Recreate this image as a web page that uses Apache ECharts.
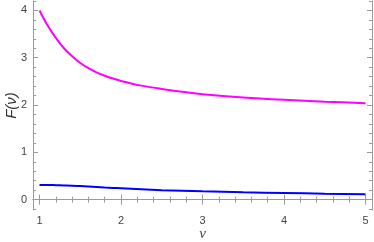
<!DOCTYPE html>
<html><head><meta charset="utf-8">
<script src="https://cdn.jsdelivr.net/npm/echarts@6/dist/echarts.min.js"></script>
<style>html,body{margin:0;padding:0;background:#fff}#c{width:374px;height:242px}</style>
</head><body><div id="c"></div>
<script>
const nu =      [1.0, 1.1, 1.2, 1.3, 1.4, 1.5, 1.6, 1.7, 1.8, 1.9, 2.0, 2.25, 2.5, 2.75, 3.0, 3.5, 4.0, 4.5, 5.0];
const fMagenta =[4.00,3.68,3.42,3.20,3.03,2.89,2.78,2.69,2.62,2.56,2.51,2.41, 2.34,2.28, 2.23,2.16,2.11,2.07,2.04];
const fBlue =   [0.31,0.31,0.305,0.30,0.295,0.285,0.275,0.265,0.255,0.247,0.24,0.22,0.20,0.188,0.175,0.155,0.14,0.125,0.115];
const xMajor = [1, 2, 3, 4, 5];
const xMinor = [1.2,1.4,1.6,1.8,2.2,2.4,2.6,2.8,3.2,3.4,3.6,3.8,4.2,4.4,4.6,4.8];
const yMajor = [0, 1, 2, 3, 4];
const yMinor = [-0.2,0.2,0.4,0.6,0.8,1.2,1.4,1.6,1.8,2.2,2.4,2.6,2.8,3.2,3.4,3.6,3.8,4.2];
const xRange = [0.92, 5.08];
const yRange = [-0.22, 4.2];

const frameColor = '#9a9a9a';
const labelStyle = {color:'#444', fontSize:11, fontFamily:'Liberation Sans, Arial, sans-serif'};

function xAx(pos, ticks, len, labels, line, extra) {
  return Object.assign({
    type:'value', position:pos, min:xRange[0], max:xRange[1],
    axisLine:{show:line, lineStyle:{color:frameColor, width:1}},
    axisTick:{show:true, inside:true, length:len, customValues:ticks, lineStyle:{color:frameColor}},
    axisLabel: labels ? Object.assign({show:true, customValues:ticks, margin:5}, labelStyle) : {show:false},
    splitLine:{show:false}
  }, extra||{});
}
function yAx(pos, ticks, len, labels, line, extra) {
  return Object.assign({
    type:'value', position:pos, min:yRange[0], max:yRange[1],
    axisLine:{show:line, lineStyle:{color:frameColor, width:1}},
    axisTick:{show:true, inside:true, length:len, customValues:ticks, lineStyle:{color:frameColor}},
    axisLabel: labels ? Object.assign({show:true, customValues:ticks, margin:6}, labelStyle) : {show:false},
    splitLine:{show:false}
  }, extra||{});
}

const chart = echarts.init(document.getElementById('c'), null, {renderer:'canvas'});
chart.setOption({
  animation:false,
  backgroundColor:'#fff',
  grid:{left:33, right:2, top:1, bottom:32, containLabel:false, outerBoundsMode:'none'},
  xAxis:[
    xAx('bottom', xMajor, 5, true, true, {name:'ν', nameLocation:'middle', nameGap:17, nameMoveOverlap:false,
      nameTextStyle:{color:'#444', fontSize:15, fontStyle:'italic', fontFamily:'Liberation Serif, Times New Roman, serif'}}),
    xAx('bottom', xMinor, 3, false, false),
    xAx('top', xMajor, 5, false, true),
    xAx('top', xMinor, 3, false, false)
  ],
  yAxis:[
    yAx('left', yMajor, 5, true, true, {name:'F(ν)', nameLocation:'middle', nameGap:14, nameRotate:90, nameMoveOverlap:false,
      nameTextStyle:{color:'#333', fontSize:15, fontStyle:'italic', fontFamily:'Liberation Sans, Arial, sans-serif'}}),
    yAx('left', yMinor, 3, false, false),
    yAx('right', yMajor, 5, false, true),
    yAx('right', yMinor, 3, false, false)
  ],
  series:[
    {type:'line', xAxisIndex:0, yAxisIndex:0, smooth:0.3, showSymbol:false,
     data: nu.map((v,i)=>[v, fMagenta[i]]), lineStyle:{color:'#ff00ff', width:2}},
    {type:'line', xAxisIndex:0, yAxisIndex:0, smooth:0.3, showSymbol:false,
     data: nu.map((v,i)=>[v, fBlue[i]]), lineStyle:{color:'#0000ff', width:2}}
  ]
});
</script></body></html>
